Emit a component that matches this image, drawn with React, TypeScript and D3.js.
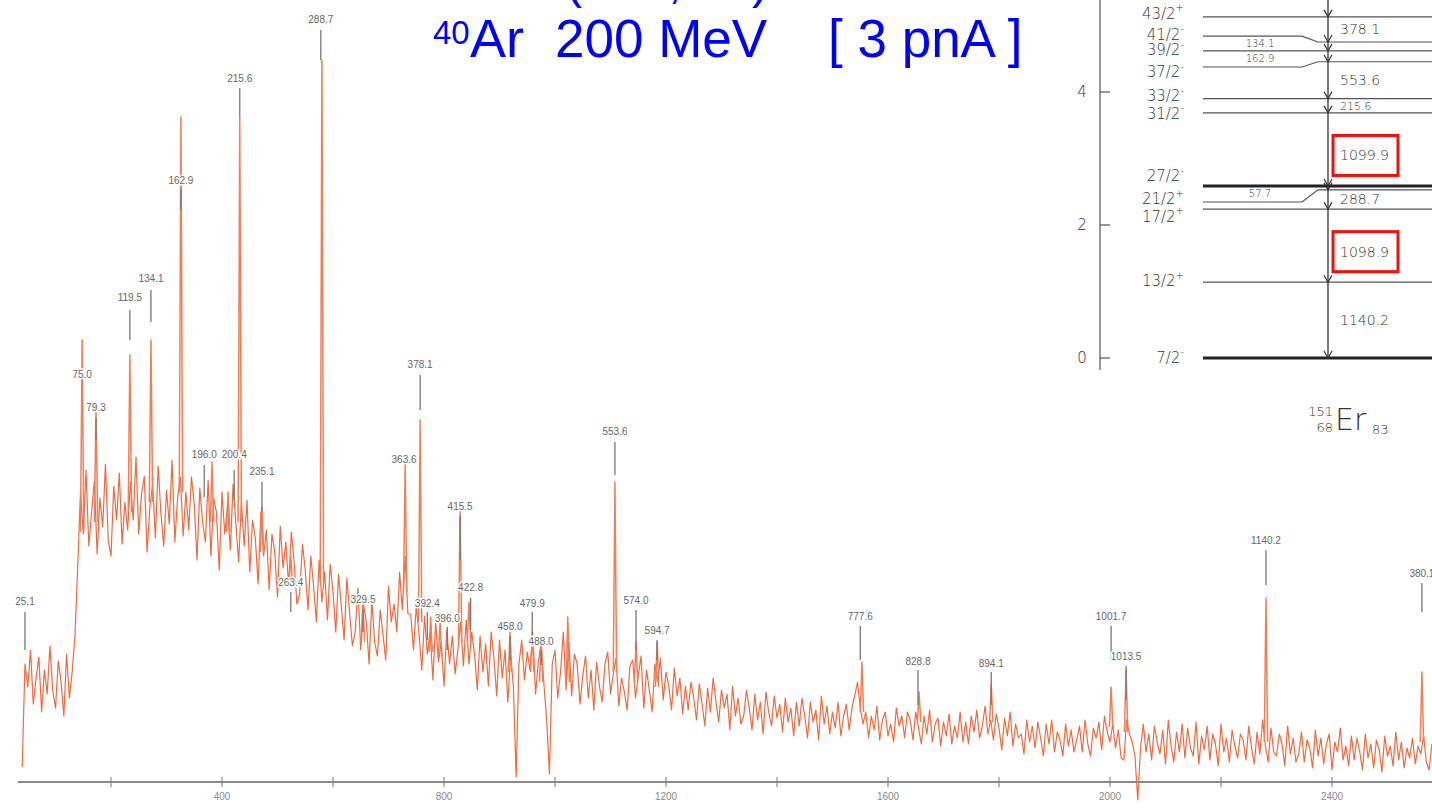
import React from 'react';
import * as d3 from 'd3';

// spectrum: counts every 5 channels starting at channel 40
const chStart = 40;
const chStep = 5;
const counts = [
  15, 118, 95, 132, 78, 104, 125, 70, 112, 88, 136, 92, 74, 121, 100, 66, 128, 84, 110, 145,
  215, 290, 248, 312, 236, 270, 301, 228, 284, 255, 318, 242, 226, 296, 262, 309, 238, 280, 252, 300,
  262, 325, 248, 288, 306, 230, 274, 298, 244, 316, 268, 236, 292, 258, 322, 240, 284, 305, 246, 290,
  252, 305, 278, 222, 294, 260, 240, 302, 226, 284, 270, 212, 290, 248, 276, 232, 298, 258, 220, 280,
  236, 282, 210, 262, 244, 198, 270, 226, 252, 192, 248, 230, 185, 256, 214, 240, 196, 250, 220, 178,
  188, 238, 212, 172, 226, 196, 160, 222, 180, 210, 162, 218, 190, 150, 208, 176, 142, 204, 168, 136,
  150, 194, 132, 178, 160, 118, 182, 140, 126, 172, 148, 122, 196, 160, 178, 150, 210, 172, 226, 168,
  168, 132, 176, 148, 112, 166, 128, 150, 102, 160, 120, 140, 96, 152, 118, 146, 108, 132, 160, 116,
  162, 118, 150, 128, 92, 146, 110, 138, 96, 150, 124, 86, 142, 104, 132, 80, 126, 96, 5, 118,
  142, 102, 130, 112, 148, 88, 120, 140, 98, 62, 8, 118, 132, 84, 110, 150, 92, 140, 86, 128,
  118, 78, 106, 126, 84, 112, 72, 120, 96, 80, 118, 130, 88, 108, 124, 76, 104, 90, 72, 116,
  122, 84, 106, 126, 74, 112, 92, 70, 118, 100, 124, 82, 110, 96, 72, 114, 86, 104, 68, 96,
  72, 100, 84, 62, 98, 78, 56, 94, 70, 104, 80, 60, 92, 74, 88, 52, 96, 66, 84, 58,
  66, 92, 74, 52, 88, 62, 80, 48, 90, 70, 56, 86, 64, 78, 50, 84, 60, 74, 46, 80,
  56, 84, 66, 44, 80, 60, 72, 42, 86, 58, 76, 48, 70, 54, 80, 46, 66, 78, 52, 74,
  86, 100, 74, 58, 70, 44, 66, 52, 76, 42, 62, 70, 46, 58, 40, 74, 56, 66, 44, 70,
  62, 42, 70, 54, 38, 66, 48, 72, 40, 58, 64, 36, 60, 46, 68, 38, 56, 44, 70, 40,
  60, 38, 66, 50, 72, 44, 56, 76, 48, 62, 42, 68, 54, 32, 64, 46, 70, 36, 58, 44,
  48, 28, 62, 40, 56, 34, 60, 44, 26, 58, 38, 62, 30, 50, 42, 26, 58, 36, 52, 30,
  42, 56, 30, 62, 38, 26, 54, 44, 60, 32, 66, 50, 40, 58, 34, 52, 24, 22, 62, 48,
  40, 26, -18, 34, 58, 30, 48, 22, 56, 40, 28, 52, 18, 62, 36, 20, 50, 30, 58, 24,
  54, 34, 26, 60, 18, 46, 32, 56, 22, 48, 38, 16, 58, 30, 44, 20, 52, 36, 24, 48,
  42, 22, 56, 34, 18, 50, 28, 62, 36, 20, 54, 30, 26, 48, 38, 16, 56, 28, 44, 20,
  28, 50, 20, 42, 34, 14, 52, 26, 44, 18, 38, 48, 12, 40, 30, 54, 22, 36, 16, 46,
  22, 44, 30, 12, 48, 24, 38, 14, 42, 32, 10, 46, 26, 36, 16, 50, 22, 40, 14, 34,
  24, 44, 18, 36, 28, 46, 20, 12, 38, 30, 42, 16,
];

// narrow photopeaks: channel, local background, top
const peaks = [
  { ch: 148, base: 250, top: 442 },
  { ch: 173, base: 260, top: 372 },
  { ch: 234, base: 270, top: 427 },
  { ch: 272, base: 280, top: 442 },
  { ch: 326, base: 290, top: 665 },
  { ch: 382, base: 260, top: 320 },
  { ch: 411, base: 250, top: 290 },
  { ch: 432, base: 260, top: 665 },
  { ch: 472, base: 230, top: 275 },
  { ch: 524, base: 200, top: 225 },
  { ch: 580, base: 200, top: 722 },
  { ch: 654, base: 140, top: 180 },
  { ch: 730, base: 190, top: 318 },
  { ch: 757, base: 160, top: 362 },
  { ch: 776, base: 130, top: 165 },
  { ch: 793, base: 125, top: 160 },
  { ch: 829, base: 140, top: 272 },
  { ch: 845, base: 140, top: 180 },
  { ch: 919, base: 110, top: 150 },
  { ch: 959, base: 110, top: 150 },
  { ch: 975, base: 100, top: 140 },
  { ch: 1023, base: 100, top: 165 },
  { ch: 1108, base: 110, top: 300 },
  { ch: 1146, base: 100, top: 140 },
  { ch: 1184, base: 95, top: 140 },
  { ch: 1553, base: 70, top: 120 },
  { ch: 1656, base: 60, top: 90 },
  { ch: 1786, base: 60, top: 98 },
  { ch: 2002, base: 55, top: 95 },
  { ch: 2029, base: 50, top: 112 },
  { ch: 2281, base: 40, top: 184 },
  { ch: 2562, base: 40, top: 110 },
];

// peak labels (keV): channel, text level, marker line from/to (counts)
const peakLabels = [
  { t: '25.1', ch: 45, at: 180, from: 170, to: 132 },
  { t: '75.0', ch: 148, at: 407 },
  { t: '79.3', ch: 173, at: 374, from: 364, to: 342 },
  { t: '119.5', ch: 234, at: 484, from: 472, to: 442 },
  { t: '134.1', ch: 272, at: 503, from: 492, to: 460 },
  { t: '162.9', ch: 326, at: 601, from: 592, to: 572 },
  { t: '196.0', ch: 368, at: 327, from: 317, to: 285 },
  { t: '200.4', ch: 422, at: 327, from: 312, to: 282 },
  { t: '215.6', ch: 432, at: 703, from: 694, to: 665 },
  { t: '235.1', ch: 472, at: 310, from: 300, to: 270 },
  { t: '263.4', ch: 524, at: 199, from: 190, to: 170 },
  { t: '288.7', ch: 578, at: 762, from: 752, to: 722 },
  { t: '329.5', ch: 654, at: 182, from: 172, to: 150 },
  { t: '363.6', ch: 728, at: 322 },
  { t: '378.1', ch: 757, at: 417, from: 407, to: 372 },
  { t: '392.4', ch: 770, at: 178, from: 170, to: 142 },
  { t: '396.0', ch: 806, at: 163, from: 155, to: 132 },
  { t: '415.5', ch: 829, at: 275, from: 266, to: 222 },
  { t: '422.8', ch: 848, at: 194, from: 184, to: 152 },
  { t: '458.0', ch: 919, at: 155, from: 146, to: 122 },
  { t: '479.9', ch: 959, at: 178, from: 170, to: 142 },
  { t: '488.0', ch: 975, at: 140, from: 132, to: 117 },
  { t: '553.6', ch: 1108, at: 350, from: 340, to: 307 },
  { t: '574.0', ch: 1146, at: 181, from: 172, to: 132 },
  { t: '594.7', ch: 1184, at: 151, from: 142, to: 122 },
  { t: '777.6', ch: 1550, at: 165, from: 156, to: 122 },
  { t: '828.8', ch: 1654, at: 120, from: 112, to: 77 },
  { t: '894.1', ch: 1786, at: 118, from: 110, to: 77 },
  { t: '1001.7', ch: 2002, at: 165, from: 156, to: 122 },
  { t: '1013.5', ch: 2029, at: 125, from: 116, to: 82 },
  { t: '1140.2', ch: 2281, at: 241, from: 232, to: 197 },
  { t: '380.1', ch: 2562, at: 208, from: 199, to: 170 },
];

const chTicks = [200, 400, 600, 800, 1000, 1200, 1400, 1600, 1800, 2000, 2200, 2400, 2600];
const chTickLabels = ['400', '800', '1200', '1600', '2000', '2400'];

// level scheme of 151Er
const spins = ['7/2', '13/2', '17/2', '21/2', '27/2', '31/2', '33/2', '37/2', '39/2', '41/2', '43/2'];
const parity = ['-', '+', '+', '+', '-', '-', '-', '-', '-', '-', '+'];
const levelE = [0, 1.14, 2.239, 2.528, 2.586, 3.686, 3.901, 4.455, 4.618, 4.752, 5.13];
const levelLeftE = [0, 1.14, 2.239, 2.346, 2.586, 3.686, 3.901, 4.376, 4.618, 4.84, 5.13];
const spinLabelE = [0, 1.143, 2.12, 2.376, 2.722, 3.669, 3.925, 4.286, 4.617, 4.857, 5.17];
const isomers = [0, 4];
const gammas = [
  { e: '378.1', from: 10, to: 9, side: 'r' },
  { e: '134.1', from: 9, to: 8, side: 'l' },
  { e: '162.9', from: 8, to: 7, side: 'l' },
  { e: '553.6', from: 7, to: 6, side: 'r' },
  { e: '215.6', from: 6, to: 5, side: 'r', small: true },
  { e: '1099.9', from: 5, to: 4, side: 'r', boxed: true },
  { e: '57.7', from: 4, to: 3, side: 'l' },
  { e: '288.7', from: 3, to: 2, side: 'r' },
  { e: '1098.9', from: 2, to: 1, side: 'r', boxed: true },
  { e: '1140.2', from: 1, to: 0, side: 'r' },
];
const levelTicks = [0, 2, 4];

const W = 1432;
const H = 809;

export default function App() {
  const x = d3.scaleLinear().domain([0, 2600]).range([0, 1443]);
  const y = d3.scaleLinear().domain([0, 782]).range([782, 0]);
  const yl = d3.scaleLinear().domain([0, 4]).range([358, 92]);

  const line = d3
    .line<number>()
    .x((d, i) => x(chStart + i * chStep))
    .y((d) => y(d));

  const orange = '#ee6a40';
  const lblFont = 'Liberation Sans, Arial, sans-serif';
  const lvFont = 'DejaVu Sans, sans-serif';
  const gx = 1328;
  const lx0 = 1203;
  const kink0 = 1302;
  const kink1 = 1318;

  return (
    <svg width={W} height={H} style={{ position: 'absolute', left: 0, top: 0, background: '#fff' }}>
      {/* title */}
      <g fill="#0000ff" fontFamily={lblFont}>
        <text x={566} y={-2} fontSize={48}>(</text>
        <text x={668} y={-2} fontSize={48}>,</text>
        <text x={752} y={-2} fontSize={48}>)</text>
        <text x={433} y={44} fontSize={33}>40</text>
        <text x={470} y={57} fontSize={54}>Ar</text>
        <text x={555} y={57} fontSize={53}>200 MeV</text>
        <text x={828} y={57} fontSize={53}>[ 3 pnA ]</text>
      </g>

      {/* spectrum */}
      <path d={line(counts) || ''} fill="none" stroke={orange} strokeWidth={1.2} strokeLinejoin="round" />
      {peaks.map((p, i) => (
        <path
          key={i}
          d={`M${x(p.ch - 3)},${y(p.base)}L${x(p.ch)},${y(p.top)}L${x(p.ch + 3)},${y(p.base)}`}
          fill="none"
          stroke="#f07f58"
          strokeWidth={1.5}
          strokeLinejoin="round"
        />
      ))}

      {/* x axis */}
      <line x1={18} x2={W} y1={782} y2={782} stroke="#8a8a8a" strokeWidth={2} />
      {chTicks.map((c) => (
        <line key={c} x1={x(c)} x2={x(c)} y1={777} y2={787} stroke="#777" strokeWidth={1} />
      ))}
      {chTickLabels.map((t) => (
        <text key={t} x={x(+t)} y={800} fontSize={10} fill="#888" textAnchor="middle" fontFamily={lblFont}>
          {t}
        </text>
      ))}

      {/* peak labels */}
      {peakLabels.map((p, i) => (
        <g key={i}>
          {p.from !== undefined && (
            <line x1={x(p.ch)} x2={x(p.ch)} y1={y(p.from)} y2={y(p.to!)} stroke="#777" strokeWidth={1.3} />
          )}
          <text
            x={x(p.ch)}
            y={y(p.at)}
            fontSize={10}
            fill="#666"
            textAnchor="middle"
            dominantBaseline="middle"
            fontFamily={lblFont}
            stroke="#fff"
            strokeWidth={3}
            paintOrder="stroke"
          >
            {p.t}
          </text>
        </g>
      ))}

      {/* level scheme */}
      <g fontFamily={lvFont} fill="#333" fontWeight={200}>
        <line x1={1100} x2={1100} y1={0} y2={370} stroke="#333" strokeWidth={1} />
        {levelTicks.map((t) => (
          <g key={t}>
            <line x1={1100} x2={1110} y1={yl(t)} y2={yl(t)} stroke="#333" />
            <text x={1082} y={yl(t)} fontSize={15} textAnchor="middle" dominantBaseline="middle">
              {t}
            </text>
          </g>
        ))}
        {spins.map((s, i) => {
          const yr = yl(levelE[i]);
          const yL = yl(levelLeftE[i]);
          const thick = isomers.includes(i);
          const d =
            yr === yL
              ? `M${lx0},${yr}H${W}`
              : `M${lx0},${yL}H${kink0}L${kink1},${yr}H${W}`;
          return (
            <g key={s}>
              <path d={d} fill="none" stroke={thick ? '#222' : '#555'} strokeWidth={thick ? 3 : 1.2} />
              <text x={1184} y={yl(spinLabelE[i])} fontSize={15} textAnchor="end" dominantBaseline="middle">
                {s}
                <tspan fontSize={10} dy={-6}>{parity[i]}</tspan>
              </text>
              <path
                d={`M${gx - 4},${yr - 7}L${gx},${yr}L${gx + 4},${yr - 7}`}
                fill="none"
                stroke="#333"
                strokeWidth={1.2}
              />
            </g>
          );
        })}
        <line x1={gx} x2={gx} y1={0} y2={yl(0)} stroke="#333" strokeWidth={1.3} />
        {gammas.map((g) => {
          if (g.side === 'l') {
            const ym = (yl(levelLeftE[g.from]) + yl(levelLeftE[g.to])) / 2;
            return (
              <text key={g.e} x={1260} y={ym} fontSize={10} textAnchor="middle" dominantBaseline="middle">
                {g.e}
              </text>
            );
          }
          const ym = (yl(levelE[g.from]) + yl(levelE[g.to])) / 2 + (g.boxed ? 7 : 1);
          return (
            <g key={g.e}>
              {g.boxed && (
                <rect x={1333} y={ym - 21} width={65} height={40} fill="none" stroke="#ee1111" strokeWidth={3} />
              )}
              <text x={1340} y={ym} fontSize={g.small ? 11 : 14} dominantBaseline="middle">
                {g.e}
              </text>
            </g>
          );
        })}
        <text x={1333} y={416} fontSize={13} textAnchor="end">151</text>
        <text x={1333} y={432} fontSize={13} textAnchor="end">68</text>
        <text x={1335} y={430} fontSize={30}>Er</text>
        <text x={1372} y={434} fontSize={13}>83</text>
      </g>
    </svg>
  );
}
